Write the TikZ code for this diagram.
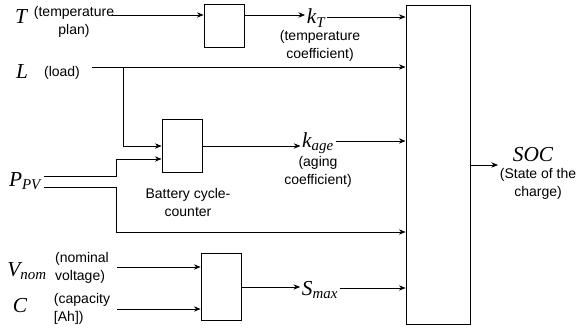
\documentclass[tikz,border=0pt]{standalone}
\usepackage{fontspec}
\setmainfont{Liberation Sans}
\newfontfamily\symfont{Liberation Serif}
\usetikzlibrary{arrows.meta}
\newcommand{\sym}[1]{{\fontsize{16}{18}\selectfont\symfont\itshape #1}}
\newcommand{\symsub}[2]{{\fontsize{16}{18}\selectfont\symfont\itshape #1\textsubscript{#2}}}

\begin{document}
\begin{tikzpicture}[x=0.75pt,y=-0.75pt,
  box/.style={draw, rectangle, minimum width=30pt, inner sep=0pt},
  lbl/.style={font=\fontsize{10.5}{13.5}\selectfont, align=center, inner sep=0pt},
  arr/.style={-{Stealth[length=5pt,width=4pt]}},
  line width=0.6pt]
\useasboundingbox (0,0) rectangle (578,331);
% blocks
\node[box, minimum width=48pt, minimum height=239.25pt] (soc) at (438,164.5) {};
\node[box, minimum height=32.25pt] (temp) at (224,25.5) {};
\node[box, minimum height=39.75pt] (cycle) at (182,145.5) {};
\node[box, minimum height=50.25pt] (cap) at (221,286.5) {};
% inputs
\node[inner sep=0pt] (T) at (21,17) {\sym{T}};
\node[lbl] (tplan) at (74,22) {(temperature\\plan)};
\node[inner sep=0pt] (L) at (22,72) {\sym{L}};
\node[lbl] (load) at (62,73) {(load)};
\node[inner sep=0pt] (ppv) at (25,181) {\symsub{P}{PV}};
\node[inner sep=0pt] (vnom) at (27,271) {\symsub{V}{nom}};
\node[lbl, align=left] (volt) at (82,268) {(nominal\\voltage)};
\node[inner sep=0pt] (C) at (20,306) {\sym{C}};
\node[lbl, align=left] (capa) at (82,309) {(capacity\\{[Ah])}};
% outputs
\node[inner sep=1pt] (kT) at (316,18) {\symsub{k}{T}};
\node[lbl] (kTtxt) at (320,46) {(temperature\\coefficient)};
\node[inner sep=1pt] (kage) at (318,143) {\symsub{k}{age}};
\node[lbl] (kagetxt) at (318,172) {(aging\\coefficient)};
\node[lbl] (cyctxt) at (188,202) {Battery cycle-\\counter};
\node[inner sep=1pt] (smax) at (320,290) {\symsub{S}{max}};
\node[inner sep=0pt] (SOC) at (533,155) {\sym{SOC}};
\node[lbl] (soctxt) at (538,184) {(State of the\\charge)};
% junctions
\coordinate (tin) at (112,15);
\coordinate (lin) at (92,67);
\coordinate (lsplit) at (123,67);
\coordinate (pa) at (44,176);
\coordinate (pb) at (44,187);
\coordinate (vin) at (117,267);
\coordinate (cin) at (117,309);
\coordinate (socout) at (498,165);
% connections
\draw[arr] (tin) -- (tin -| temp.west);
\draw[arr] (temp.east |- tin) -- (kT.west |- tin);
\draw[arr] (kT.east |- 0,17) -- (soc.west |- 0,17);
\draw[arr] (lin) -- (lin -| soc.west);
\draw[arr] (lsplit) |- (cycle.west |- 0,146);
\draw[arr] (pa) -- (116,176) |- (cycle.west |- 0,159);
\draw[arr] (pb) -- (116,187) |- (soc.west |- 0,232);
\draw[arr] (cycle.east |- 0,146) -- (kage.west |- 0,146);
\draw[arr] (kage.east |- 0,141) -- (soc.west |- 0,141);
\draw[arr] (vin) -- (vin -| cap.west);
\draw[arr] (cin) -- (cin -| cap.west);
\draw[arr] (cap.east |- 0,287) -- (smax.west |- 0,287);
\draw[arr] (smax.east |- 0,288) -- (soc.west |- 0,288);
\draw[arr] (soc.east |- socout) -- (socout);
\end{tikzpicture}
\end{document}
